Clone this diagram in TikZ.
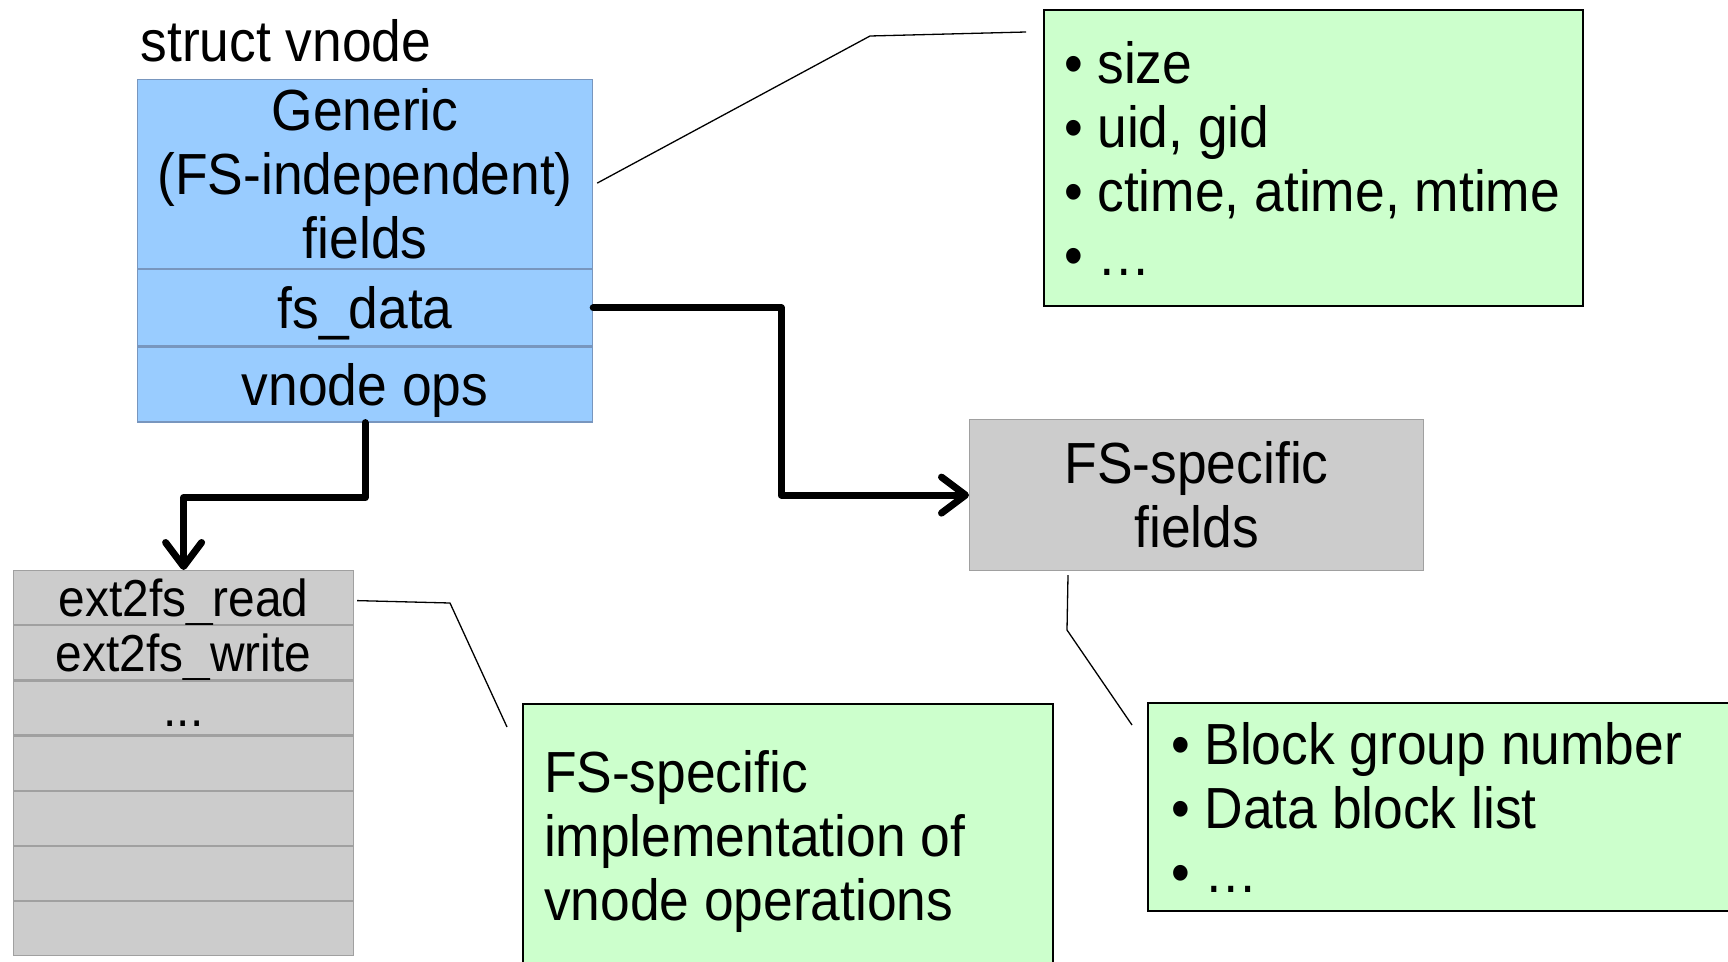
\documentclass[tikz,border=0pt]{standalone}
\usepackage{fontspec}
\setmainfont[FakeStretch=0.92]{Liberation Sans}
\usetikzlibrary{arrows.meta}
\definecolor{vblue}{HTML}{99CCFF}
\definecolor{vblueline}{RGB}{120,150,190}
\definecolor{fsgray}{HTML}{CCCCCC}
\definecolor{fsgrayline}{HTML}{A0A0A0}
\definecolor{notegreen}{HTML}{CCFFCC}

\begin{document}
\begin{tikzpicture}[x=1pt, y=-1pt,
    big/.style={font=\fontsize{58}{64}\selectfont},
    oneline/.style={text height=42pt, text depth=0pt},
    field/.style={big, draw=vblueline, fill=vblue, line width=1.2pt, minimum width=455pt, inner sep=0pt, align=flush center, anchor=north west},
    fsbox/.style={big, draw=fsgrayline, fill=fsgray, line width=1.2pt, inner sep=0pt, align=flush center, anchor=north west},
    oprow/.style={font=\fontsize{52}{58}\selectfont, draw=fsgrayline, fill=fsgray, line width=1.2pt, minimum width=340pt, minimum height=54pt, inner sep=0pt, text height=37pt, text depth=0pt, anchor=north west},
    note/.style={big, draw=black, fill=notegreen, line width=2pt, align=flush left, inner ysep=0pt, anchor=north west},
    ptr/.style={line width=7pt, line cap=round, line join=round, -{Straight Barb[length=24pt, width=36pt, round]}},
    callout/.style={line width=1.3pt}]

    \useasboundingbox (0,0) rectangle (1728,961);
    \clip (0,0) rectangle (1728,961);

    % struct vnode
    \node[big, anchor=base] (title) at (286,61) {struct vnode};
    \node[field, minimum height=189pt] (generic) at (137,79) {Generic\\(FS-independent)\\fields};
    \node[field, oneline, minimum height=76pt] (fsdata) at (generic.south west) {fs\_data};
    \node[field, oneline, minimum height=75pt] (vops) at (fsdata.south west) {vnode ops};

    % fs-specific part
    \node[fsbox, minimum width=454pt, minimum height=151pt] (fsfields) at (969,419) {FS-specific\\fields};

    % ops table
    \node[oprow] (op1) at (13,570) {ext2fs\_read};
    \node[oprow] (op2) at (op1.south west) {ext2fs\_write};
    \node[oprow] (op3) at (op2.south west) {...};
    \foreach \i [remember=\i as \prev (initially 3)] in {4,...,7}
        \node[oprow] (op\i) at (op\prev.south west) {};

    % notes
    \node[note, text width=499pt, inner xsep=20pt, minimum height=296pt] (attrs) at (1043,9)
        {•~size\\•~uid, gid\\•~ctime,~atime,~mtime\\•~…};
    \node[note, text width=488pt, inner xsep=21pt, minimum height=274pt] (impl) at (522,703)
        {FS-specific\\implementation of\\vnode operations};
    \node[note, text width=574pt, inner xsep=23pt, minimum height=208pt] (blocks) at (1147,702)
        {•~Block group number\\•~Data block list\\•~…};

    % pointers
    \draw[ptr] (fsdata.east) -- ++(188,0) |- (fsfields.west);
    \draw[ptr] (vops.south) -- ++(0,75) -| (op1.north);

    % callouts
    \coordinate (bend1) at (870,36);
    \coordinate (bend2) at (450,603);
    \coordinate (bend3) at (1067,630);
    \draw[callout] ([shift={(4,9)}]generic.east) -- (bend1) -- ([shift={(-17,23)}]attrs.north west);
    \draw[callout] ([shift={(3,3)}]op1.east) -- (bend2) -- ([shift={(-15,24)}]impl.north west);
    \draw[callout] ([shift={(99,4)}]fsfields.south west) -- (bend3) -- ([shift={(-15,23)}]blocks.north west);
\end{tikzpicture}
\end{document}
